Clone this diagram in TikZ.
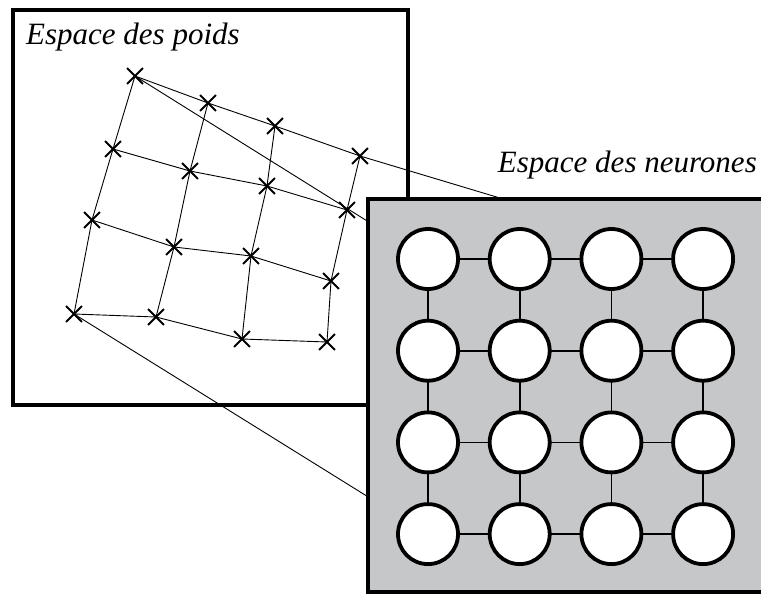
\documentclass[tikz,border=0pt]{standalone}
\usepackage{fontspec}
\setmainfont{Liberation Serif}
\usetikzlibrary{positioning}
\usetikzlibrary{shapes.misc}
\usetikzlibrary{backgrounds}
\definecolor{fondgris}{RGB}{198,199,201}

\begin{document}
\begin{tikzpicture}[
  x=1pt, y=-1pt,
  node distance=31.7pt and 31.7pt,
  neurone/.style={draw,circle,fill=white,line width=3.8pt,minimum size=60pt,inner sep=0pt,outer sep=0pt},
  poids/.style={draw,cross out,line width=1.9pt,minimum size=14pt,inner sep=0pt},
  lien/.style={line width=0.9pt},
  titre/.style={font=\itshape\fontsize{31}{34}\selectfont,inner sep=0pt}
]
\useasboundingbox (0,0) rectangle (761,594);
\clip (0,0) rectangle (761,594);

% espace des poids
\begin{pgfonlayer}{background}
\draw[line width=4.4pt,fill=white] (13,10) rectangle (408,405);
\end{pgfonlayer}
\node[titre,anchor=base west] (tp) at (26,45) {Espace des poids};

\node[poids] (w11) at (135,76) {};
\node[poids] (w12) at (208,103) {};
\node[poids] (w13) at (275,126) {};
\node[poids] (w14) at (360,156) {};
\node[poids] (w21) at (113,149) {};
\node[poids] (w22) at (190,171) {};
\node[poids] (w23) at (267,186) {};
\node[poids] (w24) at (347,210) {};
\node[poids] (w31) at (92,220) {};
\node[poids] (w32) at (174,247) {};
\node[poids] (w33) at (251,256) {};
\node[poids] (w34) at (331,281) {};
\node[poids] (w41) at (74,314) {};
\node[poids] (w42) at (156,317) {};
\node[poids] (w43) at (242,339) {};
\node[poids] (w44) at (327,342) {};

\draw[lien] (w11.center) -- (w12.center) -- (w13.center) -- (w14.center);
\draw[lien] (w21.center) -- (w22.center) -- (w23.center) -- (w24.center);
\draw[lien] (w31.center) -- (w32.center) -- (w33.center) -- (w34.center);
\draw[lien] (w41.center) -- (w42.center) -- (w43.center) -- (w44.center);
\draw[lien] (w11.center) -- (w21.center) -- (w31.center) -- (w41.center);
\draw[lien] (w12.center) -- (w22.center) -- (w32.center) -- (w42.center);
\draw[lien] (w13.center) -- (w23.center) -- (w33.center) -- (w43.center);
\draw[lien] (w14.center) -- (w24.center) -- (w34.center) -- (w44.center);

% espace des neurones
\draw[line width=4.4pt,fill=fondgris] (368,199) rectangle (800,592);
\node[titre,anchor=base east] (tn) at (757,172) {Espace des neurones};

\node[neurone] (n11) at (428,259) {};
\node[neurone,right=of n11] (n12) {};
\node[neurone,right=of n12] (n13) {};
\node[neurone,right=of n13] (n14) {};
\node[neurone,below=of n11] (n21) {};
\node[neurone,right=of n21] (n22) {};
\node[neurone,right=of n22] (n23) {};
\node[neurone,right=of n23] (n24) {};
\node[neurone,below=of n21] (n31) {};
\node[neurone,right=of n31] (n32) {};
\node[neurone,right=of n32] (n33) {};
\node[neurone,right=of n33] (n34) {};
\node[neurone,below=of n31] (n41) {};
\node[neurone,right=of n41] (n42) {};
\node[neurone,right=of n42] (n43) {};
\node[neurone,right=of n43] (n44) {};

\path[line width=1.7pt]
(n11) edge (n12) (n12) edge (n13) (n13) edge (n14)
(n21) edge (n22) (n22) edge (n23) (n23) edge (n24)
(n31) edge (n32) (n32) edge (n33) (n33) edge (n34)
(n41) edge (n42) (n42) edge (n43) (n43) edge (n44)
(n11) edge (n21) (n21) edge (n31) (n31) edge (n41)
(n12) edge (n22) (n22) edge (n32) (n32) edge (n42)
(n13) edge (n23) (n23) edge (n33) (n33) edge (n43)
(n14) edge (n24) (n24) edge (n34) (n34) edge (n44)
;

% projection des coins, sous le carre gris
\begin{pgfonlayer}{background}
\draw[lien] (w11.center) -- (n11.center);
\draw[lien] (w14.center) -- (n14.center);
\draw[lien] (w41.center) -- (n41.center);
\end{pgfonlayer}
\end{tikzpicture}
\end{document}
